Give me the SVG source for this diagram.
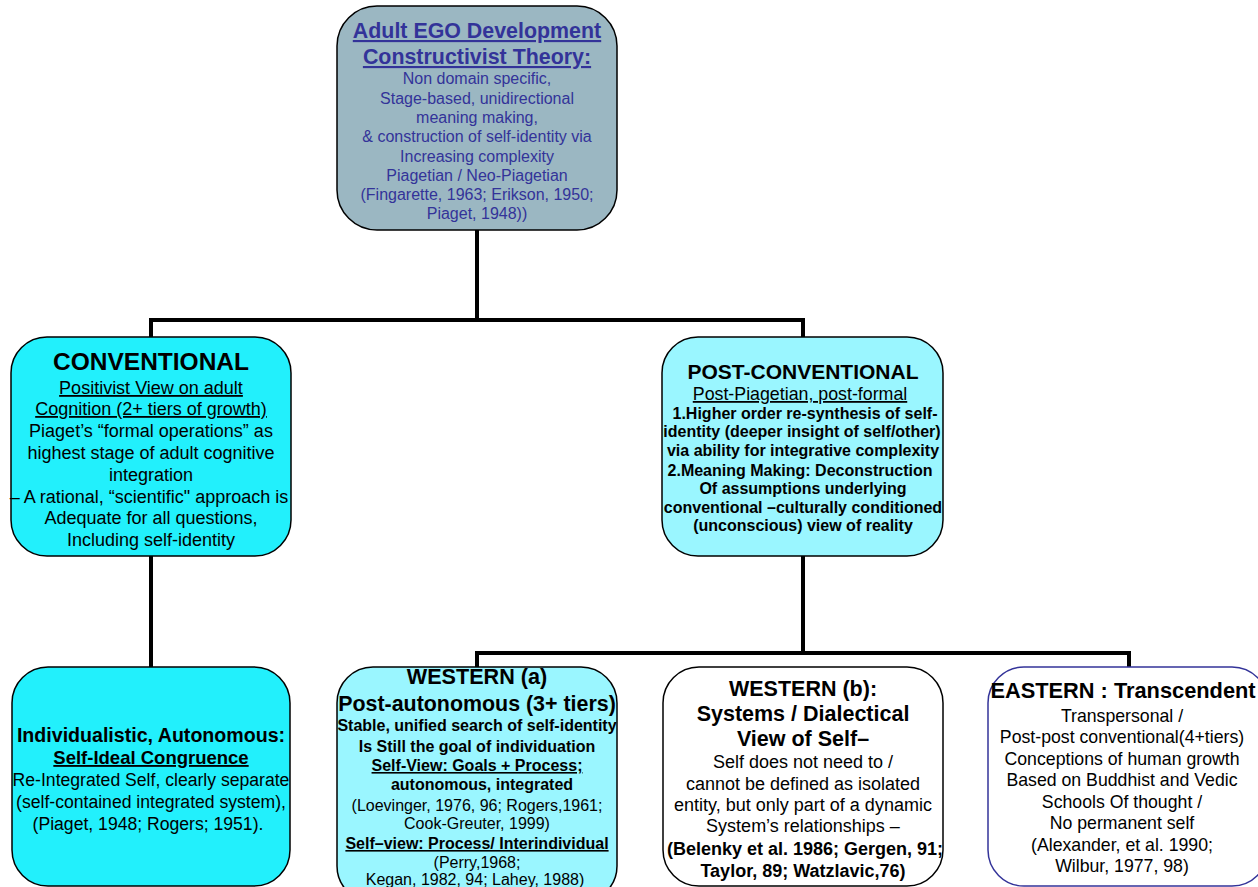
<svg xmlns="http://www.w3.org/2000/svg" width="1258" height="887" viewBox="0 0 1258 887">
<style>
text{font-family:"Liberation Sans",Arial,sans-serif;text-anchor:middle;fill:#000}
.b{font-weight:bold}
.u{text-decoration:underline}
.blue{fill:#333399}
.box{stroke:#000;stroke-width:1.5}
.conn{stroke:#000;stroke-width:4;fill:none;stroke-linecap:square}
</style>
<rect width="1258" height="887" fill="#fff"/>
<g id="connectors">
<path class="conn" d="M477 230 V320 M151 320 H803 M151 320 V337 M803 320 V337"/>
<path class="conn" d="M151 556 V667"/>
<path class="conn" d="M803 556 V653 M477 653 H1129 M477 653 V667 M1129 653 V667"/>
</g>
<g id="root">
<rect class="box" x="337" y="6" width="280" height="224" rx="40" fill="#9BB7C2"/>
<text class="b u blue" x="477" y="38" font-size="21.4">Adult EGO Development</text>
<text class="b u blue" x="477" y="64" font-size="21.4">Constructivist Theory:</text>
<g font-size="16">
<text class="blue" x="477" y="84">Non domain specific,</text>
<text class="blue" x="477" y="104">Stage-based, unidirectional</text>
<text class="blue" x="477" y="123">meaning making,</text>
<text class="blue" x="477" y="142">&amp; construction of self-identity via</text>
<text class="blue" x="477" y="162">Increasing complexity</text>
<text class="blue" x="477" y="181">Piagetian / Neo-Piagetian</text>
<text class="blue" x="477" y="200">(Fingarette, 1963; Erikson, 1950;</text>
<text class="blue" x="477" y="219">Piaget, 1948))</text>
</g>
</g>
<g id="conventional">
<rect class="box" x="11" y="337" width="280" height="219" rx="36" fill="#22F0FC"/>
<text class="b" x="151" y="370" font-size="24.5">CONVENTIONAL</text>
<g font-size="18">
<text class="u" x="151" y="394">Positivist View on adult</text>
<text class="u" x="151" y="415">Cognition (2+ tiers of growth)</text>
<text x="151" y="437">Piaget’s “formal operations” as</text>
<text x="151" y="459">highest stage of adult cognitive</text>
<text x="151" y="481">integration</text>
<text x="149" y="503">– A rational, “scientific" approach is</text>
<text x="151" y="524">Adequate for all questions,</text>
<text x="151" y="546">Including self-identity</text>
</g>
</g>
<g id="postconventional">
<rect class="box" x="662" y="337" width="281" height="219" rx="36" fill="#9AF6FF"/>
<text class="b" x="803" y="379" font-size="21">POST-CONVENTIONAL</text>
<text class="u" x="800" y="400" font-size="17.8">Post-Piagetian, post-formal</text>
<g class="b" font-size="16">
<text x="805" y="419">1.Higher order re-synthesis of self-</text>
<text x="802" y="437">identity (deeper insight of self/other)</text>
<text x="803" y="456">via ability for integrative complexity</text>
<text x="800" y="476">2.Meaning Making: Deconstruction</text>
<text x="803" y="494">Of assumptions  underlying</text>
<text x="803" y="513">conventional –culturally conditioned</text>
<text x="803" y="531">(unconscious) view of reality</text>
</g>
</g>
<g id="individualistic">
<rect class="box" x="12" y="667" width="278" height="219" rx="36" fill="#22F0FC"/>
<text class="b" x="151" y="742" font-size="19.6">Individualistic, Autonomous:</text>
<text class="b u" x="151" y="764" font-size="18.5">Self-Ideal Congruence</text>
<g font-size="17.6">
<text x="151" y="786">Re-Integrated Self, clearly separate</text>
<text x="151" y="808">(self-contained integrated system),</text>
<text x="148" y="830">(Piaget, 1948; Rogers; 1951).</text>
</g>
</g>
<g id="western-a">
<rect class="box" x="337" y="667" width="280" height="235" rx="36" fill="#9AF6FF"/>
<text class="b" x="477" y="684" font-size="21.6">WESTERN (a)</text>
<text class="b" x="477" y="711" font-size="21.4">Post-autonomous (3+ tiers)</text>
<g font-size="16">
<text class="b" x="477" y="731">Stable, unified search of self-identity</text>
<text class="b" x="477" y="752">Is Still the goal of individuation</text>
<text class="b u" x="477" y="771">Self-View: Goals + Process;</text>
<text class="b" x="482" y="790">autonomous, integrated</text>
<text x="477" y="811">(Loevinger, 1976, 96; Rogers,1961;</text>
<text x="477" y="829">Cook-Greuter, 1999)</text>
<text class="b u" x="477" y="849">Self–view: Process/ Interindividual</text>
<text x="477" y="868">(Perry,1968;</text>
<text x="475" y="885">Kegan, 1982, 94; Lahey, 1988)</text>
</g>
</g>
<g id="western-b">
<rect class="box" x="663" y="667" width="280" height="219" rx="36" fill="#fff"/>
<text class="b" x="803" y="696" font-size="21.5">WESTERN (b):</text>
<text class="b" x="803" y="721" font-size="21.5">Systems / Dialectical</text>
<text class="b" x="803" y="746" font-size="21.5">View of Self–</text>
<g font-size="18">
<text x="803" y="768">Self  does not need to /</text>
<text x="803" y="790">cannot be defined as isolated</text>
<text x="803" y="811">entity, but only part of a dynamic</text>
<text x="803" y="832">System’s relationships –</text>
<text class="b" x="805" y="855">(Belenky et al. 1986; Gergen, 91;</text>
<text class="b" x="803" y="877">Taylor, 89; Watzlavic,76)</text>
</g>
</g>
<g id="eastern">
<rect x="988" y="667" width="280" height="219" rx="36" fill="#fff" stroke="#333399" stroke-width="1.5"/>
<text class="b" x="1123" y="698" font-size="21.8">EASTERN : Transcendent</text>
<g font-size="17.7">
<text x="1122" y="722">Transpersonal /</text>
<text x="1122" y="743">Post-post conventional(4+tiers)</text>
<text x="1122" y="765">Conceptions of human growth</text>
<text x="1122" y="786">Based on Buddhist and Vedic</text>
<text x="1122" y="808">Schools Of thought /</text>
<text x="1122" y="829">No permanent self</text>
<text x="1122" y="851">(Alexander, et al. 1990;</text>
<text x="1122" y="872">Wilbur, 1977, 98)</text>
</g>
</g>
</svg>
